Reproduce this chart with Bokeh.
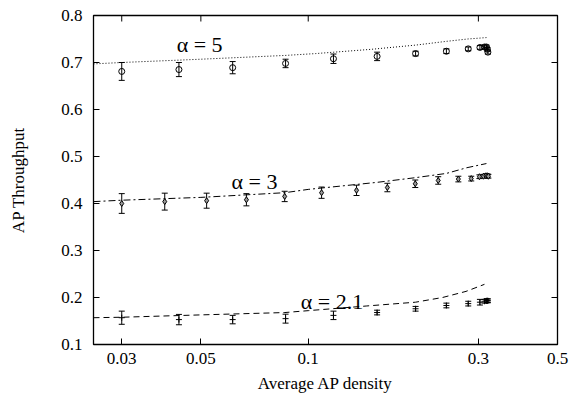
import math
from bokeh.plotting import figure
from bokeh.models import (ColumnDataSource, Whisker, TeeHead, FixedTicker,
                          PrintfTickFormatter, CustomJSTickFormatter, Label)
from bokeh.embed import file_html
from bokeh.resources import INLINE

FONT = "'Liberation Serif', 'Times New Roman', serif"

# ---- data ----
# analytical curves
theory5_x = [0.025, 0.03, 0.05, 0.086, 0.105, 0.15, 0.2, 0.244, 0.28, 0.316]
theory5_y = [0.697, 0.700, 0.707, 0.715, 0.719, 0.728, 0.737, 0.745, 0.750, 0.753]
theory3_x = [0.025, 0.03, 0.05, 0.086, 0.1, 0.156, 0.2, 0.244, 0.278, 0.316]
theory3_y = [0.404, 0.407, 0.413, 0.423, 0.430, 0.445, 0.455, 0.464, 0.476, 0.485]
theory21_x = [0.025, 0.03, 0.05, 0.086, 0.1, 0.146, 0.2, 0.238, 0.277, 0.312]
theory21_y = [0.157, 0.158, 0.163, 0.168, 0.172, 0.182, 0.190, 0.200, 0.213, 0.228]

# simulation points
sim5_x = [0.030, 0.0434, 0.0614, 0.0864, 0.1177, 0.156, 0.200, 0.244, 0.281, 0.303, 0.312, 0.316, 0.318, 0.319]
sim5_y = [0.681, 0.685, 0.689, 0.698, 0.708, 0.713, 0.719, 0.724, 0.729, 0.732, 0.733, 0.733, 0.728, 0.722]
sim5_e = [0.019, 0.015, 0.013, 0.009, 0.010, 0.009, 0.005, 0.005, 0.004, 0.004, 0.004, 0.004, 0.004, 0.004]

sim3_x = [0.030, 0.0396, 0.0519, 0.0671, 0.0859, 0.109, 0.1366, 0.1667, 0.1996, 0.2315, 0.2636, 0.2865,
          0.302, 0.310, 0.315, 0.318, 0.320]
sim3_y = [0.400, 0.404, 0.406, 0.408, 0.415, 0.423, 0.428, 0.434, 0.442, 0.449, 0.452, 0.453,
          0.457, 0.458, 0.459, 0.459, 0.458]
sim3_e = [0.021, 0.018, 0.016, 0.013, 0.011, 0.012, 0.011, 0.009, 0.008, 0.008, 0.006, 0.005,
          0.004, 0.004, 0.004, 0.004, 0.004]

sim21_x = [0.030, 0.0434, 0.0614, 0.0864, 0.1177, 0.156, 0.200, 0.244, 0.281, 0.303, 0.312, 0.316, 0.318, 0.319]
sim21_y = [0.157, 0.153, 0.153, 0.155, 0.162, 0.168, 0.176, 0.183, 0.187, 0.190, 0.192, 0.193, 0.193, 0.193]
sim21_e = [0.014, 0.011, 0.009, 0.0095, 0.009, 0.005, 0.005, 0.005, 0.005, 0.006, 0.004, 0.004, 0.004, 0.004]

# curve labels (text, x, baseline y)
label_text = ["\u03b1 = 5", "\u03b1 = 3", "\u03b1 = 2.1"]
label_x = [0.0496, 0.0707, 0.1166]
label_y = [0.738, 0.447, 0.1915]

x_ticks = [0.03, 0.05, 0.1, 0.3, 0.5]
y_ticks = [0.1, 0.2, 0.3, 0.4, 0.5, 0.6, 0.7, 0.8]
x_min, x_max = 0.025, 0.5
y_min, y_max = 0.1, 0.8

# ---- figure ----
p = figure(width=575, height=400, x_axis_type="log", x_range=(x_min, x_max), y_range=(y_min, y_max),
           output_backend="svg", toolbar_location=None,
           min_border_left=93, min_border_right=18, min_border_top=15, min_border_bottom=56)
p.xgrid.grid_line_color = None
p.ygrid.grid_line_color = None
p.outline_line_color = "black"
p.outline_line_width = 1.3
p.background_fill_color = "white"
p.border_fill_color = "white"

p.xaxis.ticker = FixedTicker(ticks=x_ticks)
p.xaxis.formatter = CustomJSTickFormatter(code="return String(tick);")
p.yaxis.ticker = FixedTicker(ticks=y_ticks)
p.yaxis.formatter = PrintfTickFormatter(format="%.1f")
p.xaxis.axis_label = "Average AP density"
p.yaxis.axis_label = "AP Throughput"

for ax in [p.xaxis[0], p.yaxis[0]]:
    ax.axis_line_color = None
    ax.major_tick_in = 6
    ax.major_tick_out = 0
    ax.major_tick_line_color = "black"
    ax.minor_tick_line_color = None
    ax.major_label_text_font = FONT
    ax.major_label_text_font_size = "17px"
    ax.major_label_text_color = "black"
    ax.axis_label_text_font = FONT
    ax.axis_label_text_font_size = "17px"
    ax.axis_label_text_font_style = "normal"
    ax.axis_label_text_color = "black"

p.xaxis.major_label_standoff = 8
p.xaxis.axis_label_standoff = 7
p.yaxis.major_label_standoff = 11
p.yaxis.axis_label_standoff = 30

# mirrored inward ticks on top and right (dash markers clipped by the frame)
p.scatter(x=x_ticks, y=[y_max] * len(x_ticks), marker="dash", angle=math.pi / 2, size=12,
          line_color="black", line_width=1)
p.scatter(x=[x_max] * len(y_ticks), y=y_ticks, marker="dash", size=12,
          line_color="black", line_width=1)

# theory curves
p.line(theory5_x, theory5_y, line_color="black", line_width=1, line_dash="1 2")
p.line(theory3_x, theory3_y, line_color="black", line_width=1, line_dash="7 3 2 3")
p.line(theory21_x, theory21_y, line_color="black", line_width=1, line_dash="6 4")

def sim(xs, ys, es, marker, fill):
    src = ColumnDataSource(dict(x=xs, y=ys,
                                lo=[a - b for a, b in zip(ys, es)],
                                hi=[a + b for a, b in zip(ys, es)]))
    w = Whisker(source=src, base="x", lower="lo", upper="hi", dimension="height",
                line_color="black", line_width=1,
                lower_head=TeeHead(size=6, line_color="black", line_width=1),
                upper_head=TeeHead(size=6, line_color="black", line_width=1))
    p.add_layout(w)
    p.scatter("x", "y", source=src, marker=marker, size=6, line_color="black",
              fill_color=fill, line_width=1)

sim(sim5_x, sim5_y, sim5_e, "circle", None)
sim(sim3_x, sim3_y, sim3_e, "diamond", "#999999")
sim(sim21_x, sim21_y, sim21_e, "cross", None)

for t, x, y in zip(label_text, label_x, label_y):
    p.add_layout(Label(x=x, y=y, text=t, text_font=FONT, text_font_size="22px",
                       text_align="center", text_baseline="alphabetic", text_color="black"))

open("out.html", "w").write(file_html(p, INLINE))
